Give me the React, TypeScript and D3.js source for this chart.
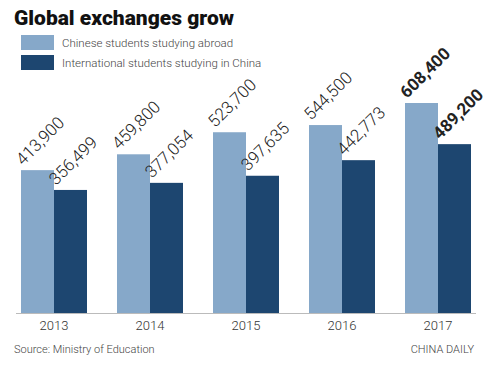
import React, { useEffect, useRef } from 'react';
import * as d3 from 'd3';

const years = ['2013', '2014', '2015', '2016', '2017'];
const chineseAbroad = [413900, 459800, 523700, 544500, 608400];
const intlInChina = [356499, 377054, 397635, 442773, 489200];
const seriesNames = ['Chinese students studying abroad', 'International students studying in China'];
const colors = ['#86a8c9', '#1d4670'];

export default function App() {
  const svgRef = useRef<SVGSVGElement>(null);

  useEffect(() => {
    const svg = d3.select(svgRef.current);
    svg.selectAll('*').remove();
    const font = 'Roboto, "Liberation Sans", sans-serif';

    svg.append('rect').attr('width', 500).attr('height', 365).attr('fill', '#fff');

    svg.append('text')
      .attr('x', 14).attr('y', 25)
      .attr('font-family', font).attr('font-weight', 900)
      .attr('font-size', 21).attr('fill', '#111')
      .text('Global exchanges grow');

    seriesNames.forEach((name, i) => {
      svg.append('rect')
        .attr('x', 21).attr('y', 35 + i * 20).attr('width', 33).attr('height', 15)
        .attr('fill', colors[i]);
      svg.append('text')
        .attr('x', 62).attr('y', 47 + i * 20)
        .attr('font-family', font).attr('font-weight', 300)
        .attr('font-size', 11.5).attr('fill', '#444')
        .text(name);
    });

    const x = d3.scaleBand().domain(years).range([21, 471]).paddingInner(0.3125).paddingOuter(0);
    const x1 = d3.scaleBand().domain(['a', 'b']).range([0, x.bandwidth()]);
    const y = d3.scaleLinear().domain([0, 608400]).range([313, 103]);
    const fmt = d3.format(',');

    const g = svg.append('g');
    years.forEach((yr, i) => {
      const vals = [chineseAbroad[i], intlInChina[i]];
      vals.forEach((v, j) => {
        const bx = x(yr)! + x1(j === 0 ? 'a' : 'b')!;
        g.append('rect')
          .attr('x', bx).attr('y', y(v))
          .attr('width', x1.bandwidth()).attr('height', y(0) - y(v))
          .attr('fill', colors[j]);
      });
    });
    years.forEach((yr, i) => {
      const vals = [chineseAbroad[i], intlInChina[i]];
      vals.forEach((v, j) => {
        const bx = x(yr)! + x1(j === 0 ? 'a' : 'b')!;
        g.append('text')
          .attr('transform', `translate(${bx + 2},${y(v) - 4}) rotate(-45)`)
          .attr('font-family', font)
          .attr('font-weight', i === years.length - 1 ? 700 : 300)
          .attr('font-size', 17).attr('fill', '#222')
          .text(fmt(v));
      });
    });

    svg.append('line')
      .attr('x1', 16).attr('x2', 476).attr('y1', 313.5).attr('y2', 313.5)
      .attr('stroke', '#bbb').attr('stroke-width', 1);

    years.forEach((yr) => {
      svg.append('text')
        .attr('x', x(yr)! + x.bandwidth() / 2).attr('y', 330)
        .attr('text-anchor', 'middle')
        .attr('font-family', font).attr('font-weight', 300)
        .attr('font-size', 13).attr('fill', '#333')
        .text(yr);
    });

    svg.append('text')
      .attr('x', 14).attr('y', 353)
      .attr('font-family', font).attr('font-weight', 300)
      .attr('font-size', 11).attr('fill', '#444')
      .text('Source: Ministry of Education');

    svg.append('text')
      .attr('x', 474).attr('y', 353).attr('text-anchor', 'end')
      .attr('font-family', font).attr('font-weight', 300)
      .attr('font-size', 11).attr('fill', '#444')
      .text('CHINA DAILY');
  }, []);

  return (
    <svg ref={svgRef} width={500} height={365}
      style={{ position: 'absolute', left: 0, top: 0, display: 'block' }} />
  );
}
